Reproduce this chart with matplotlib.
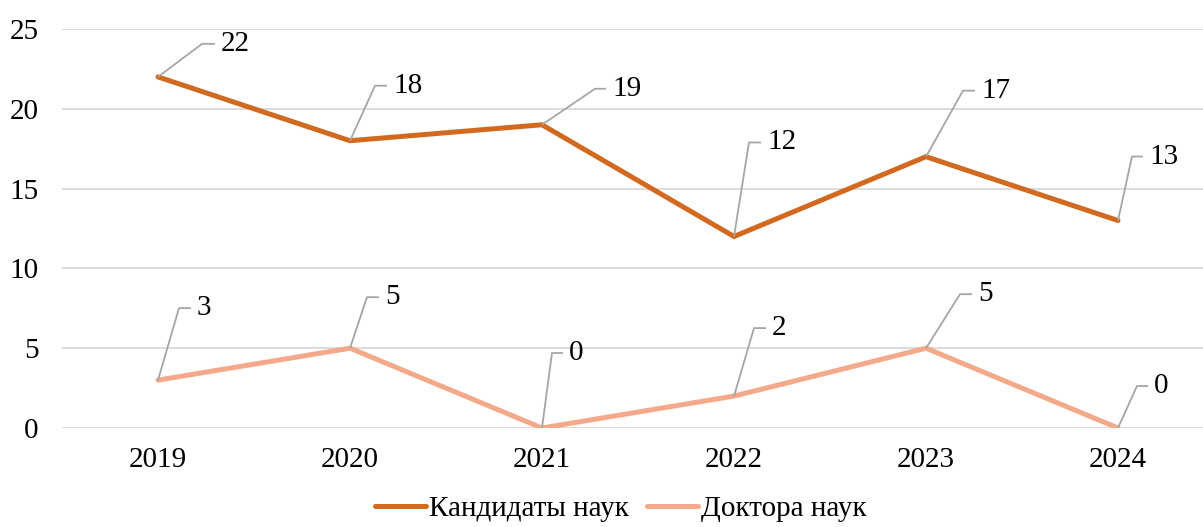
import matplotlib.pyplot as plt

plt.rcParams['font.family'] = ['Liberation Serif', 'DejaVu Serif']

years = ['2019', '2020', '2021', '2022', '2023', '2024']
candidates = [22, 18, 19, 12, 17, 13]
doctors = [3, 5, 0, 2, 5, 0]

series_names = ['Кандидаты наук', 'Доктора наук']
colors = ['#D2691F', '#F4A98A']

# leader line geometry in pixels: (elbow dx, elbow dy, end dx)
cand_leaders = [(44, 33, 57), (25, 55, 37), (53, 36, 64), (15, 94, 27), (37, 66, 49), (14, 64, 25)]
doc_leaders = [(21, 72, 33), (17, 51, 29), (10, 75, 21), (20, 68, 32), (34, 54, 46), (19, 42, 30)]

FS = 21


def add_labels(ax, values, leaders):
    for i, (v, (dx1, dy, dx2)) in enumerate(zip(values, leaders)):
        base = ax.transData.transform((i, v))
        xs = [base[0], base[0] + dx1, base[0] + dx2]
        ys = [base[1], base[1] + dy, base[1] + dy]
        ax.plot(xs, ys, color='#A6A6A6', lw=1.3, transform=None, zorder=4, solid_capstyle='butt')
        ax.text(base[0] + dx2 + 6, base[1] + dy, str(v), transform=None,
                ha='left', va='center', fontsize=FS, color='black', zorder=5)


def main():
    fig = plt.figure(figsize=(12.03, 5.27), dpi=100)
    ax = fig.add_axes([62 / 1203, 99 / 527, 1152 / 1203, 399 / 527])

    x = list(range(len(years)))
    ax.plot(x, candidates, color=colors[0], lw=3.6, label=series_names[0], zorder=3,
            solid_joinstyle='miter', solid_capstyle='round')
    ax.plot(x, doctors, color=colors[1], lw=3.6, label=series_names[1], zorder=3,
            solid_joinstyle='miter', solid_capstyle='round')

    ax.set_xlim(-0.5, 5.5)
    ax.set_ylim(0, 25)
    ax.set_yticks([0, 5, 10, 15, 20, 25])
    ax.set_xticks(x)
    ax.set_xticklabels(years)
    ax.yaxis.grid(True, color='#D9D9D9', lw=1.3)
    ax.set_axisbelow(True)
    for s in ax.spines.values():
        s.set_visible(False)
    ax.tick_params(axis='both', length=0, labelsize=FS, colors='black')
    ax.tick_params(axis='y', pad=17)
    ax.tick_params(axis='x', pad=14)

    fig.canvas.draw()
    add_labels(ax, candidates, cand_leaders)
    add_labels(ax, doctors, doc_leaders)

    fig.legend(loc='center', bbox_to_anchor=(0.516, 0.034), ncol=2, frameon=False,
               fontsize=FS, handlelength=1.75, handletextpad=0.1, columnspacing=0.6)

    fig.savefig('out.png', dpi=100)
    plt.close(fig)


if __name__ == '__main__':
    main()
